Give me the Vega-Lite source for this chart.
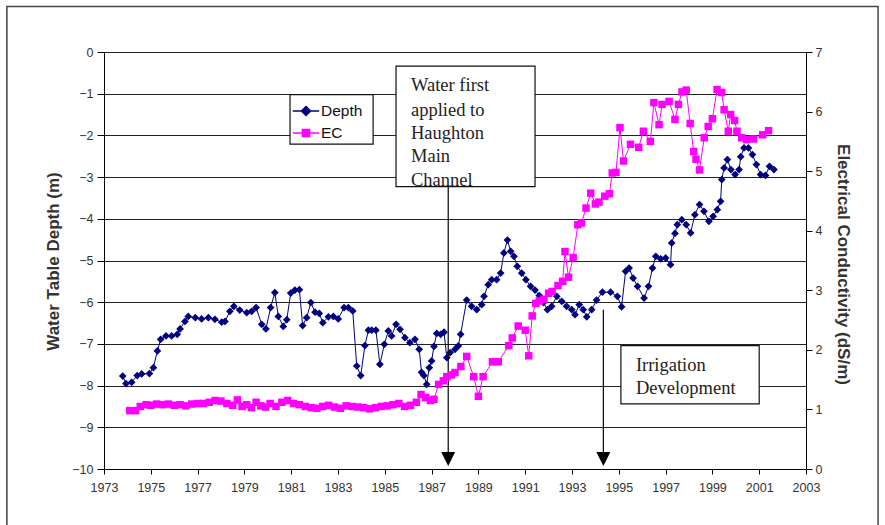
{
  "$schema": "https://vega.github.io/schema/vega-lite/v6.json",
  "width": 702,
  "height": 417,
  "autosize": "none",
  "padding": {"left": 104, "top": 52, "right": 79, "bottom": 56},
  "background": "white",
  "config": {"view": {"stroke": null}, "font": "Liberation Sans"},
  "datasets": {
    "depth": [
      {"year": 1973.8, "depth": -7.77}, {"year": 1973.94, "depth": -7.95}, {"year": 1974.18, "depth": -7.92}, {"year": 1974.42, "depth": -7.76},
      {"year": 1974.61, "depth": -7.72}, {"year": 1974.94, "depth": -7.71}, {"year": 1975.11, "depth": -7.57}, {"year": 1975.28, "depth": -7.17},
      {"year": 1975.42, "depth": -6.89}, {"year": 1975.65, "depth": -6.81}, {"year": 1975.89, "depth": -6.81}, {"year": 1976.13, "depth": -6.77},
      {"year": 1976.25, "depth": -6.64}, {"year": 1976.46, "depth": -6.46}, {"year": 1976.6, "depth": -6.34}, {"year": 1976.9, "depth": -6.37},
      {"year": 1977.17, "depth": -6.4}, {"year": 1977.46, "depth": -6.37}, {"year": 1977.74, "depth": -6.41}, {"year": 1978.03, "depth": -6.48},
      {"year": 1978.17, "depth": -6.46}, {"year": 1978.38, "depth": -6.22}, {"year": 1978.55, "depth": -6.1}, {"year": 1978.8, "depth": -6.19},
      {"year": 1979.1, "depth": -6.25}, {"year": 1979.31, "depth": -6.22}, {"year": 1979.5, "depth": -6.13}, {"year": 1979.74, "depth": -6.53},
      {"year": 1979.92, "depth": -6.64}, {"year": 1980.12, "depth": -6.13}, {"year": 1980.3, "depth": -5.77}, {"year": 1980.45, "depth": -6.34},
      {"year": 1980.66, "depth": -6.58}, {"year": 1980.81, "depth": -6.42}, {"year": 1980.98, "depth": -5.78}, {"year": 1981.16, "depth": -5.71},
      {"year": 1981.35, "depth": -5.7}, {"year": 1981.49, "depth": -6.56}, {"year": 1981.66, "depth": -6.37}, {"year": 1981.84, "depth": -6.01},
      {"year": 1982.02, "depth": -6.24}, {"year": 1982.2, "depth": -6.27}, {"year": 1982.35, "depth": -6.49}, {"year": 1982.59, "depth": -6.35},
      {"year": 1982.8, "depth": -6.34}, {"year": 1983.01, "depth": -6.4}, {"year": 1983.26, "depth": -6.13}, {"year": 1983.44, "depth": -6.13},
      {"year": 1983.63, "depth": -6.21}, {"year": 1983.8, "depth": -7.53}, {"year": 1983.97, "depth": -7.76}, {"year": 1984.15, "depth": -7.04},
      {"year": 1984.3, "depth": -6.67}, {"year": 1984.44, "depth": -6.67}, {"year": 1984.62, "depth": -6.67}, {"year": 1984.79, "depth": -7.49},
      {"year": 1984.98, "depth": -7.01}, {"year": 1985.15, "depth": -6.69}, {"year": 1985.29, "depth": -6.81}, {"year": 1985.48, "depth": -6.53},
      {"year": 1985.65, "depth": -6.65}, {"year": 1985.86, "depth": -6.85}, {"year": 1986.07, "depth": -6.97}, {"year": 1986.29, "depth": -6.89},
      {"year": 1986.47, "depth": -7.13}, {"year": 1986.57, "depth": -7.68}, {"year": 1986.67, "depth": -7.76}, {"year": 1986.79, "depth": -7.97},
      {"year": 1986.9, "depth": -7.57}, {"year": 1987.0, "depth": -7.41}, {"year": 1987.1, "depth": -7.06}, {"year": 1987.22, "depth": -6.75},
      {"year": 1987.39, "depth": -6.77}, {"year": 1987.53, "depth": -6.72}, {"year": 1987.65, "depth": -7.33}, {"year": 1987.79, "depth": -7.21},
      {"year": 1988.0, "depth": -7.13}, {"year": 1988.14, "depth": -7.05}, {"year": 1988.24, "depth": -6.77}, {"year": 1988.5, "depth": -5.95},
      {"year": 1988.71, "depth": -6.1}, {"year": 1988.93, "depth": -6.18}, {"year": 1989.14, "depth": -6.06}, {"year": 1989.24, "depth": -5.86},
      {"year": 1989.42, "depth": -5.58}, {"year": 1989.57, "depth": -5.46}, {"year": 1989.78, "depth": -5.46}, {"year": 1989.95, "depth": -5.3},
      {"year": 1990.09, "depth": -4.82}, {"year": 1990.24, "depth": -4.51}, {"year": 1990.38, "depth": -4.78}, {"year": 1990.52, "depth": -4.9},
      {"year": 1990.66, "depth": -5.14}, {"year": 1990.85, "depth": -5.3}, {"year": 1991.03, "depth": -5.46}, {"year": 1991.23, "depth": -5.62},
      {"year": 1991.42, "depth": -5.71}, {"year": 1991.6, "depth": -5.84}, {"year": 1991.78, "depth": -6.01}, {"year": 1991.95, "depth": -6.18},
      {"year": 1992.13, "depth": -6.1}, {"year": 1992.35, "depth": -5.86}, {"year": 1992.56, "depth": -5.98}, {"year": 1992.77, "depth": -6.1},
      {"year": 1992.99, "depth": -6.18}, {"year": 1993.13, "depth": -6.3}, {"year": 1993.31, "depth": -6.06}, {"year": 1993.48, "depth": -6.18},
      {"year": 1993.63, "depth": -6.35}, {"year": 1993.84, "depth": -6.18}, {"year": 1994.05, "depth": -5.95}, {"year": 1994.3, "depth": -5.76},
      {"year": 1994.65, "depth": -5.76}, {"year": 1994.94, "depth": -5.86}, {"year": 1995.12, "depth": -6.11}, {"year": 1995.29, "depth": -5.26},
      {"year": 1995.44, "depth": -5.18}, {"year": 1995.61, "depth": -5.42}, {"year": 1995.8, "depth": -5.62}, {"year": 1996.08, "depth": -5.9},
      {"year": 1996.27, "depth": -5.62}, {"year": 1996.44, "depth": -5.18}, {"year": 1996.58, "depth": -4.9}, {"year": 1996.79, "depth": -4.96},
      {"year": 1997.0, "depth": -4.94}, {"year": 1997.21, "depth": -5.1}, {"year": 1997.26, "depth": -4.58}, {"year": 1997.4, "depth": -4.35},
      {"year": 1997.5, "depth": -4.14}, {"year": 1997.69, "depth": -4.02}, {"year": 1997.88, "depth": -4.14}, {"year": 1998.07, "depth": -4.34},
      {"year": 1998.25, "depth": -3.9}, {"year": 1998.45, "depth": -3.66}, {"year": 1998.64, "depth": -3.82}, {"year": 1998.85, "depth": -4.06},
      {"year": 1999.03, "depth": -3.94}, {"year": 1999.21, "depth": -3.78}, {"year": 1999.35, "depth": -3.58}, {"year": 1999.4, "depth": -3.06},
      {"year": 1999.5, "depth": -2.78}, {"year": 1999.64, "depth": -2.58}, {"year": 1999.79, "depth": -2.82}, {"year": 1999.97, "depth": -2.94},
      {"year": 2000.14, "depth": -2.82}, {"year": 2000.21, "depth": -2.51}, {"year": 2000.35, "depth": -2.3}, {"year": 2000.54, "depth": -2.3},
      {"year": 2000.71, "depth": -2.46}, {"year": 2000.88, "depth": -2.7}, {"year": 2001.06, "depth": -2.94}, {"year": 2001.27, "depth": -2.96},
      {"year": 2001.44, "depth": -2.74}, {"year": 2001.63, "depth": -2.82}
    ],
    "ec": [
      {"year": 1974.1, "ec": 0.98}, {"year": 1974.35, "ec": 0.98}, {"year": 1974.55, "ec": 1.05}, {"year": 1974.8, "ec": 1.08},
      {"year": 1975.0, "ec": 1.07}, {"year": 1975.25, "ec": 1.09}, {"year": 1975.5, "ec": 1.08}, {"year": 1975.75, "ec": 1.09},
      {"year": 1976.0, "ec": 1.07}, {"year": 1976.25, "ec": 1.08}, {"year": 1976.5, "ec": 1.06}, {"year": 1976.75, "ec": 1.09},
      {"year": 1977.0, "ec": 1.1}, {"year": 1977.25, "ec": 1.1}, {"year": 1977.5, "ec": 1.12}, {"year": 1977.75, "ec": 1.15},
      {"year": 1978.0, "ec": 1.14}, {"year": 1978.25, "ec": 1.1}, {"year": 1978.5, "ec": 1.07}, {"year": 1978.7, "ec": 1.16},
      {"year": 1978.9, "ec": 1.05}, {"year": 1979.1, "ec": 1.08}, {"year": 1979.3, "ec": 1.03}, {"year": 1979.5, "ec": 1.12},
      {"year": 1979.7, "ec": 1.06}, {"year": 1979.9, "ec": 1.04}, {"year": 1980.1, "ec": 1.1}, {"year": 1980.35, "ec": 1.05},
      {"year": 1980.6, "ec": 1.12}, {"year": 1980.85, "ec": 1.15}, {"year": 1981.1, "ec": 1.1}, {"year": 1981.35, "ec": 1.08},
      {"year": 1981.6, "ec": 1.05}, {"year": 1981.85, "ec": 1.03}, {"year": 1982.1, "ec": 1.02}, {"year": 1982.35, "ec": 1.05},
      {"year": 1982.6, "ec": 1.07}, {"year": 1982.85, "ec": 1.04}, {"year": 1983.1, "ec": 1.02}, {"year": 1983.35, "ec": 1.06},
      {"year": 1983.6, "ec": 1.05}, {"year": 1983.85, "ec": 1.04}, {"year": 1984.1, "ec": 1.03}, {"year": 1984.35, "ec": 1.01},
      {"year": 1984.6, "ec": 1.03}, {"year": 1984.85, "ec": 1.05}, {"year": 1985.1, "ec": 1.06}, {"year": 1985.35, "ec": 1.08},
      {"year": 1985.6, "ec": 1.1}, {"year": 1985.85, "ec": 1.05}, {"year": 1986.1, "ec": 1.07}, {"year": 1986.35, "ec": 1.12},
      {"year": 1986.55, "ec": 1.25}, {"year": 1986.75, "ec": 1.2}, {"year": 1986.95, "ec": 1.15}, {"year": 1987.1, "ec": 1.17},
      {"year": 1987.3, "ec": 1.42}, {"year": 1987.5, "ec": 1.48}, {"year": 1987.65, "ec": 1.55}, {"year": 1987.85, "ec": 1.58},
      {"year": 1988.0, "ec": 1.62}, {"year": 1988.25, "ec": 1.72}, {"year": 1988.5, "ec": 1.89}, {"year": 1988.8, "ec": 1.55},
      {"year": 1989.0, "ec": 1.22}, {"year": 1989.2, "ec": 1.55}, {"year": 1989.6, "ec": 1.8}, {"year": 1989.85, "ec": 1.8},
      {"year": 1990.3, "ec": 2.07}, {"year": 1990.45, "ec": 2.2}, {"year": 1990.7, "ec": 2.4}, {"year": 1991.0, "ec": 2.33},
      {"year": 1991.15, "ec": 1.9}, {"year": 1991.3, "ec": 2.57}, {"year": 1991.45, "ec": 2.78}, {"year": 1991.6, "ec": 2.82},
      {"year": 1991.8, "ec": 2.85}, {"year": 1992.0, "ec": 2.95}, {"year": 1992.15, "ec": 2.98}, {"year": 1992.4, "ec": 3.08},
      {"year": 1992.6, "ec": 3.15}, {"year": 1992.7, "ec": 3.65}, {"year": 1992.85, "ec": 3.22}, {"year": 1993.05, "ec": 3.55},
      {"year": 1993.25, "ec": 4.1}, {"year": 1993.4, "ec": 4.13}, {"year": 1993.6, "ec": 4.38}, {"year": 1993.8, "ec": 4.63},
      {"year": 1994.0, "ec": 4.45}, {"year": 1994.15, "ec": 4.48}, {"year": 1994.4, "ec": 4.58}, {"year": 1994.6, "ec": 4.62},
      {"year": 1994.72, "ec": 4.97}, {"year": 1994.88, "ec": 4.98}, {"year": 1995.05, "ec": 5.73}, {"year": 1995.2, "ec": 5.17},
      {"year": 1995.5, "ec": 5.45}, {"year": 1995.85, "ec": 5.4}, {"year": 1996.05, "ec": 5.67}, {"year": 1996.35, "ec": 5.5},
      {"year": 1996.5, "ec": 6.15}, {"year": 1996.72, "ec": 5.78}, {"year": 1996.85, "ec": 6.12}, {"year": 1997.15, "ec": 6.17},
      {"year": 1997.4, "ec": 5.87}, {"year": 1997.55, "ec": 6.12}, {"year": 1997.7, "ec": 6.33}, {"year": 1997.88, "ec": 6.36},
      {"year": 1998.05, "ec": 5.8}, {"year": 1998.2, "ec": 5.33}, {"year": 1998.3, "ec": 5.2}, {"year": 1998.45, "ec": 5.02},
      {"year": 1998.65, "ec": 5.56}, {"year": 1998.82, "ec": 5.75}, {"year": 1999.0, "ec": 5.88}, {"year": 1999.2, "ec": 6.37},
      {"year": 1999.4, "ec": 6.32}, {"year": 1999.5, "ec": 6.03}, {"year": 1999.68, "ec": 5.67}, {"year": 1999.78, "ec": 5.95},
      {"year": 1999.95, "ec": 5.85}, {"year": 2000.05, "ec": 5.67}, {"year": 2000.25, "ec": 5.56}, {"year": 2000.45, "ec": 5.53},
      {"year": 2000.75, "ec": 5.54}, {"year": 2001.15, "ec": 5.61}, {"year": 2001.4, "ec": 5.68}
    ],
    "boxes": [
      {"year": 1985.48, "year2": 1991.42, "depth": -0.34, "depth2": -3.23},
      {"year": 1995.09, "year2": 2001.0, "depth": -7.04, "depth2": -8.44},
      {"year": 1980.95, "year2": 1984.5, "depth": -1.02, "depth2": -2.21}
    ],
    "frame": [
      {"year": 1968.85, "year2": 2006.08, "depth": 1.09, "depth2": -11.6}
    ],
    "notes": [
      {"year": 1986.12, "depth": -0.78, "label": "Water first"},
      {"year": 1986.12, "depth": -1.38, "label": "applied to"},
      {"year": 1986.12, "depth": -1.94, "label": "Haughton"},
      {"year": 1986.12, "depth": -2.5, "label": "Main"},
      {"year": 1986.12, "depth": -3.06, "label": "Channel"},
      {"year": 1995.73, "depth": -7.5, "label": "Irrigation"},
      {"year": 1995.73, "depth": -8.05, "label": "Development"}
    ],
    "arrows": [
      {"year": 1987.71, "depth": -3.23, "depth2": -9.6, "tip": -9.76},
      {"year": 1994.34, "depth": -6.18, "depth2": -9.6, "tip": -9.76}
    ]
  },
  "encoding": {
    "x": {
      "field": "year",
      "type": "quantitative",
      "title": null,
      "scale": {"domain": [1973, 2003], "nice": false, "zero": false},
      "axis": {
        "values": [1973, 1975, 1977, 1979, 1981, 1983, 1985, 1987, 1989, 1991, 1993, 1995, 1997, 1999, 2001, 2003],
        "format": "d",
        "grid": false,
        "tickSize": 5,
        "labelPadding": 7,
        "labelFontSize": 12.5,
        "labelColor": "#333",
        "labelFlush": false,
        "domainColor": "#000",
        "tickColor": "#000",
        "title": null
      }
    }
  },
  "layer": [
    {
      "layer": [
        {
          "data": {"name": "depth"},
          "mark": {"type": "line", "strokeWidth": 1},
          "encoding": {
            "y": {
              "field": "depth",
              "type": "quantitative",
              "title": "Water Table Depth (m)",
              "scale": {"domain": [-10, 0], "nice": false, "zero": false},
              "axis": {
                "orient": "left",
                "values": [-10, -9, -8, -7, -6, -5, -4, -3, -2, -1, 0],
                "grid": true,
                "gridColor": "#222",
                "gridWidth": 1.2,
                "gridOpacity": 1,
                "domainColor": "#000",
                "tickColor": "#000",
                "tickSize": 7,
                "labelPadding": 4,
                "labelFontSize": 12.5,
                "labelColor": "#333",
                "titleFontSize": 17,
                "titleFontWeight": "bold",
                "titleColor": "#333",
                "titleX": -51,
                "titleY": 209,
                "titleAngle": 270,
                "titleAlign": "center",
                "titleBaseline": "middle"
              }
            },
            "color": {
              "datum": "Depth",
              "scale": {"domain": ["Depth", "EC"], "range": ["#000080", "#ff00ff"]},
              "legend": {
                "orient": "none",
                "legendX": 186,
                "legendY": 43,
                "title": null,
                "padding": 3,
                "rowPadding": 0,
                "labelFont": "Liberation Sans",
                "labelFontSize": 15.5,
                "labelColor": "#111",
                "labelOffset": 2,
                "symbolSize": 576,
                "encode": {
                  "symbols": {
                    "update": {
                      "shape": {"signal": "datum.value === 'Depth' ? 'M-1.1,0L1.1,0M0,-0.38L0.38,0L0,0.38L-0.38,0Z' : 'M-1.1,0L1.1,0M-0.3,-0.3L0.3,-0.3L0.3,0.3L-0.3,0.3Z'"},
                      "fill": {"signal": "datum.value === 'Depth' ? '#000080' : '#ff00ff'"},
                      "stroke": {"signal": "datum.value === 'Depth' ? '#000080' : '#ff00ff'"},
                      "strokeWidth": {"value": 1.5}
                    }
                  }
                }
              }
            }
          }
        },
        {
          "data": {"name": "depth"},
          "mark": {"type": "point", "shape": "diamond", "filled": true, "size": 60, "opacity": 1},
          "encoding": {
            "y": {"field": "depth", "type": "quantitative", "title": "Water Table Depth (m)"},
            "color": {"datum": "Depth"}
          }
        },
        {
          "data": {"name": "boxes"},
          "mark": {"type": "rect", "fill": "white", "stroke": "#111", "strokeWidth": 1.2},
          "encoding": {
            "x2": {"field": "year2"},
            "y": {"field": "depth", "type": "quantitative", "title": "Water Table Depth (m)"},
            "y2": {"field": "depth2"}
          }
        },
        {
          "data": {"name": "frame"},
          "mark": {"type": "rect", "fill": null, "fillOpacity": 0, "stroke": "#444", "strokeWidth": 1.5, "clip": false},
          "encoding": {
            "x2": {"field": "year2"},
            "y": {"field": "depth", "type": "quantitative", "title": "Water Table Depth (m)"},
            "y2": {"field": "depth2"}
          }
        },
        {
          "data": {"name": "notes"},
          "mark": {"type": "text", "font": "Liberation Serif", "fontSize": 18.5, "align": "left", "baseline": "middle", "color": "#222"},
          "encoding": {
            "y": {"field": "depth", "type": "quantitative", "title": "Water Table Depth (m)"},
            "text": {"field": "label"}
          }
        },
        {
          "data": {"name": "arrows"},
          "mark": {"type": "rule", "color": "#000", "strokeWidth": 1.2},
          "encoding": {
            "y": {"field": "depth", "type": "quantitative", "title": "Water Table Depth (m)"},
            "y2": {"field": "depth2"}
          }
        },
        {
          "data": {"name": "arrows"},
          "mark": {"type": "point", "shape": "M-1,-1L1,-1L0,1Z", "filled": true, "size": 196, "color": "#000", "opacity": 1},
          "encoding": {
            "y": {"field": "tip", "type": "quantitative", "title": "Water Table Depth (m)"}
          }
        }
      ]
    },
    {
      "data": {"name": "ec"},
      "layer": [
        {
          "mark": {"type": "line", "strokeWidth": 1},
          "encoding": {
            "y": {
              "field": "ec",
              "type": "quantitative",
              "title": "Electrical Conductivity (dS/m)",
              "scale": {"domain": [0, 7], "nice": false, "zero": false},
              "axis": {
                "orient": "right",
                "values": [0, 1, 2, 3, 4, 5, 6, 7],
                "format": "d",
                "grid": false,
                "domainColor": "#000",
                "tickColor": "#000",
                "tickSize": 6,
                "labelPadding": 3,
                "labelFontSize": 12.5,
                "labelColor": "#333",
                "titleFontSize": 17,
                "titleFontWeight": "bold",
                "titleColor": "#333",
                "titleX": 36,
                "titleY": 212,
                "titleAngle": 90,
                "titleAlign": "center",
                "titleBaseline": "middle"
              }
            },
            "color": {"datum": "EC"}
          }
        },
        {
          "mark": {"type": "point", "shape": "square", "filled": true, "size": 56, "opacity": 1},
          "encoding": {
            "y": {"field": "ec", "type": "quantitative", "title": "Electrical Conductivity (dS/m)"},
            "color": {"datum": "EC"}
          }
        }
      ]
    }
  ],
  "resolve": {"scale": {"y": "independent"}}
}
